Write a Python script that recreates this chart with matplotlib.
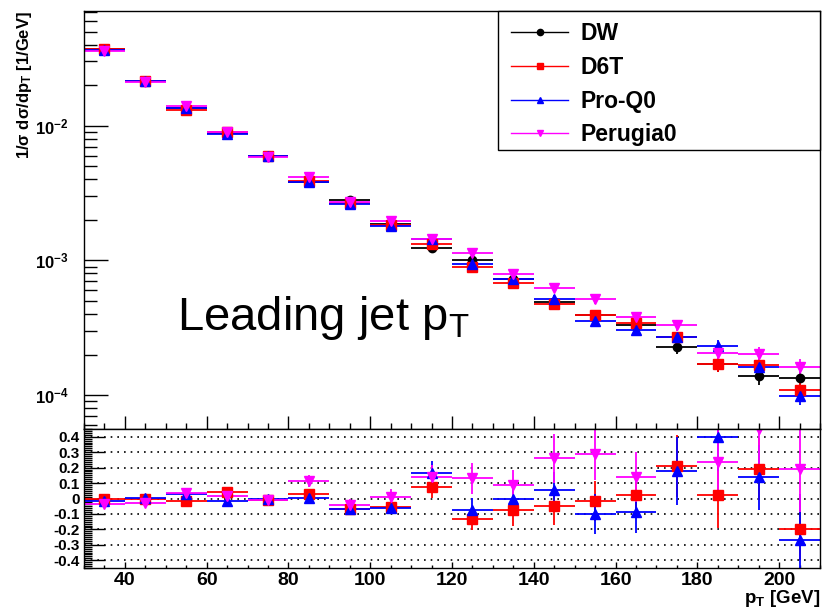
import numpy as np
import matplotlib
matplotlib.use('Agg')
import matplotlib.pyplot as plt
from matplotlib.lines import Line2D
from matplotlib.patches import Rectangle
from matplotlib.ticker import MultipleLocator, FixedLocator, FuncFormatter, NullFormatter

plt.rcParams['font.family'] = ['Liberation Sans', 'DejaVu Sans']
plt.rcParams['mathtext.fontset'] = 'custom'
plt.rcParams['mathtext.rm'] = 'Liberation Sans'
plt.rcParams['mathtext.bf'] = 'Liberation Sans:bold'
plt.rcParams['mathtext.it'] = 'Liberation Sans:italic'
plt.rcParams['axes.unicode_minus'] = False

# bin centres, 10 GeV wide
pt = [35, 45, 55, 65, 75, 85, 95, 105, 115, 125, 135, 145, 155, 165, 175, 185, 195, 205]
half_width = 5

# 1/sigma dsigma/dpT
dw = [0.0370, 0.0215, 0.01345, 0.00887, 0.00596, 0.00384, 0.00281, 0.00185, 0.00123,
      0.00101, 0.000731, 0.000494, 0.000395, 0.000333, 0.000226, 0.000169, 0.000139, 0.000135]
d6t = [0.0372, 0.0215, 0.0131, 0.0089, 0.00592, 0.00388, 0.00268, 0.00184, 0.00132,
       0.000889, 0.000676, 0.000474, 0.000395, 0.000341, 0.000269, 0.000169, 0.000167, 0.000109]
proq0 = [0.0366, 0.0216, 0.0136, 0.0086, 0.00594, 0.00382, 0.00264, 0.00179, 0.001435,
         0.000935, 0.000731, 0.00052, 0.000355, 0.000306, 0.000268, 0.00023, 0.000161, 0.0000991]
perugia0 = [0.0360, 0.0210, 0.0139, 0.0089, 0.0059, 0.00414, 0.0027, 0.00196, 0.00143,
            0.00114, 0.000796, 0.000624, 0.000516, 0.000382, 0.00033, 0.000205, 0.000201, 0.000162]
rel_err = [0.01, 0.01, 0.01, 0.012, 0.015, 0.02, 0.02, 0.025, 0.04,
           0.05, 0.05, 0.07, 0.08, 0.09, 0.10, 0.12, 0.14, 0.15]

# relative difference to DW
r_d6t = [0.0, 0.0, -0.015, 0.043, -0.01, 0.032, -0.065, -0.058, 0.076,
         -0.13, -0.076, -0.05, -0.015, 0.022, 0.21, 0.022, 0.19, -0.195]
e_d6t = [0.02, 0.02, 0.02, 0.02, 0.02, 0.03, 0.03, 0.03, 0.075,
         0.075, 0.1, 0.12, 0.13, 0.14, 0.2, 0.21, 0.2, 0.2]
r_proq0 = [-0.015, 0.006, 0.03, -0.015, -0.005, 0.006, -0.07, -0.06, 0.166,
           -0.076, 0.0, 0.054, -0.10, -0.086, 0.18, 0.396, 0.136, -0.27]
e_proq0 = [0.02, 0.02, 0.02, 0.02, 0.02, 0.03, 0.03, 0.04, 0.08,
           0.08, 0.1, 0.12, 0.13, 0.14, 0.22, 0.22, 0.21, 0.3]
r_perugia0 = [-0.037, -0.032, 0.037, 0.015, -0.01, 0.115, -0.043, 0.01, 0.14,
              0.13, 0.086, 0.26, 0.29, 0.14, 0.46, 0.238, 0.45, 0.19]
e_perugia0 = [0.02, 0.02, 0.02, 0.02, 0.02, 0.04, 0.04, 0.05, 0.08,
              0.1, 0.1, 0.16, 0.17, 0.16, 0.25, 0.25, 0.3, 0.28]

names = ['DW', 'D6T', 'Pro-Q0', 'Perugia0']
colors = ['black', 'red', 'blue', 'magenta']
markers = ['o', 's', '^', 'v']
msizes = [6, 6.5, 7, 7.5]

fig = plt.figure(figsize=(8.27, 6.13), dpi=100)
W, H = 827., 613.
ax1 = fig.add_axes([84/W, 1-429/H, 736/W, 418/H])
ax2 = fig.add_axes([84/W, 1-568/H, 736/W, 139/H])

x = np.array(pt, dtype=float)
for vals, c, m, ms in zip([dw, d6t, proq0, perugia0], colors, markers, msizes):
    v = np.array(vals)
    ax1.errorbar(x, v, xerr=half_width, yerr=v*np.array(rel_err), fmt=m, color=c,
                 ms=ms, mec=c, mfc=c, elinewidth=1.3, capsize=0, ls='none')

ax1.set_yscale('log')
ax1.set_xlim(30, 210)
ax1.set_ylim(5.6e-5, 0.071)
ax1.yaxis.set_major_locator(FixedLocator([1e-4, 1e-3, 1e-2]))
ax1.yaxis.set_minor_locator(FixedLocator([k*10.0**e for e in (-5, -4, -3, -2) for k in range(2, 10)]))
ax1.yaxis.set_major_formatter(FuncFormatter(lambda v, p: r'$\mathbf{10^{%d}}$' % round(np.log10(v))))
ax1.yaxis.set_minor_formatter(NullFormatter())
ax1.xaxis.set_major_locator(MultipleLocator(20))
ax1.xaxis.set_minor_locator(MultipleLocator(5))
ax1.tick_params(axis='y', which='major', direction='in', length=17, width=1, labelsize=12, pad=11)
ax1.tick_params(axis='y', which='minor', direction='in', length=9, width=1)
ax1.tick_params(axis='x', which='major', direction='in', length=9.5, width=1, labelbottom=False)
ax1.tick_params(axis='x', which='minor', direction='in', length=4.5, width=1)
ax1.set_ylabel('1/σ dσ/dp$_{\\mathbf{T}}$ [1/GeV]', fontsize=12, fontweight='bold')
ax1.yaxis.set_label_coords(-0.068, 1.0)
ax1.yaxis.label.set_ha('right')

ax1.text(0.126, 0.237, 'Leading jet p$_{\\mathrm{T}}$', transform=ax1.transAxes,
         fontsize=34, va='baseline', ha='left')

# legend box spans from x=498 px to the right edge of the frame
ax1.add_patch(Rectangle(((498-84)/736, (429-150)/418), 1-(498-84)/736, (150-11)/418,
                        transform=ax1.transAxes, fill=True, fc='white', ec='black',
                        lw=1, zorder=5, clip_on=False))
handles = [Line2D([], [], color=c, marker=m, ms=4.5, lw=1) for c, m in zip(colors, markers)]
leg = ax1.legend(handles, names, loc='upper left', bbox_to_anchor=((503-84)/736, 1.0-3/418),
                 borderaxespad=0, frameon=False, prop={'weight': 'bold', 'size': 16.5},
                 handlelength=2.5, handletextpad=0.52, labelspacing=0.47, borderpad=0.35)
leg.set_zorder(6)

ylo, yhi = -0.45, 0.45
for r, e, c, m, ms in zip([r_d6t, r_proq0, r_perugia0], [e_d6t, e_proq0, e_perugia0],
                          colors[1:], markers[1:], msizes[1:]):
    r = np.array(r)
    e = np.array(e)
    keep = r <= yhi
    ax2.errorbar(x[keep], r[keep], xerr=half_width, yerr=e[keep], fmt=m, color=c,
                 ms=ms, mec=c, mfc=c, elinewidth=1.3, capsize=0, ls='none')

ax2.set_xlim(30, 210)
ax2.set_ylim(ylo, yhi)
for g in np.arange(-0.4, 0.41, 0.1):
    ax2.axhline(g, color='black', lw=1.2, ls=(0, (1, 3)), zorder=0)
ax2.yaxis.set_major_locator(FixedLocator(np.round(np.arange(-0.4, 0.41, 0.1), 1)))
ax2.yaxis.set_minor_locator(MultipleLocator(0.0125))
ax2.yaxis.set_major_formatter(FuncFormatter(lambda v, p: '0' if abs(v) < 1e-9 else '%.1f' % v))
ax2.xaxis.set_major_locator(MultipleLocator(20))
ax2.xaxis.set_minor_locator(MultipleLocator(5))
ax2.tick_params(axis='y', which='major', direction='in', length=15, width=1, labelsize=11, pad=3)
ax2.tick_params(axis='y', which='minor', direction='in', length=6, width=1)
ax2.tick_params(axis='x', which='major', direction='in', length=4, width=1, labelsize=14, pad=3)
ax2.tick_params(axis='x', which='minor', direction='in', length=2, width=1)
for lab in ax2.get_xticklabels() + ax2.get_yticklabels():
    lab.set_fontweight('bold')
ax2.set_xlabel('p$_{\\mathbf{T}}$ [GeV]', fontsize=13.5, fontweight='bold', loc='right', labelpad=-1)

for a in (ax1, ax2):
    for s in a.spines.values():
        s.set_linewidth(1)

fig.savefig('out.png', dpi=100)
